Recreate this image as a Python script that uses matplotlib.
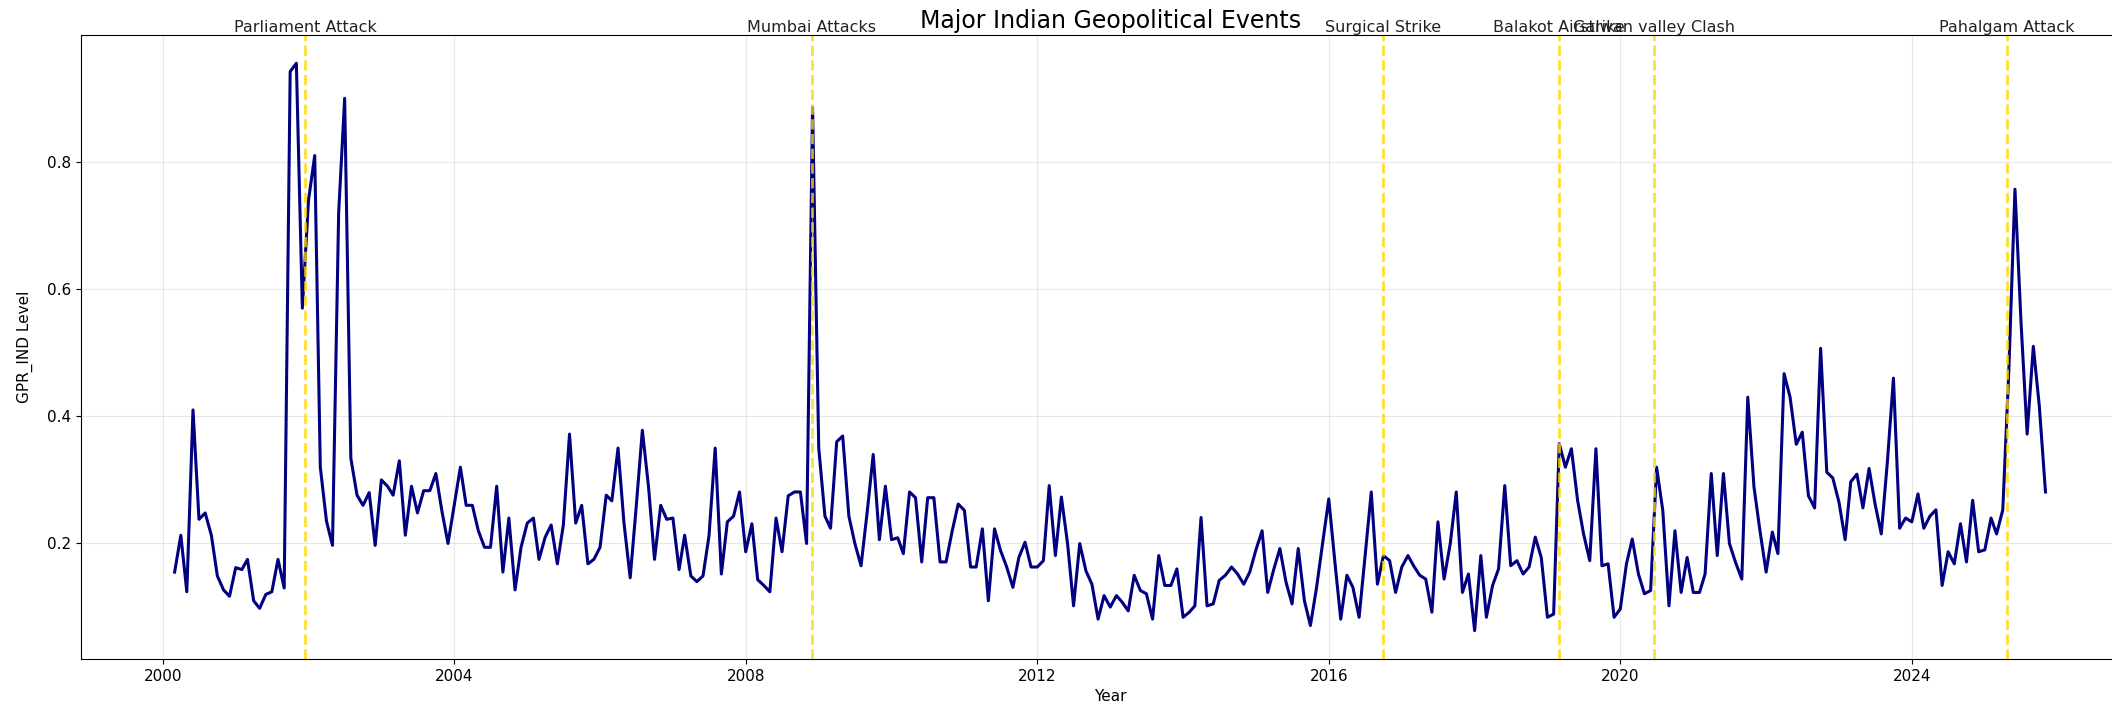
import pandas as pd
import matplotlib
matplotlib.use("Agg")
import matplotlib.pyplot as plt
import matplotlib.dates as mdates

# Monthly GPR_IND readings, month-end dated, Feb 2000 .. Oct 2025
gpr_2000 = [0.155, 0.213, 0.124, 0.41, 0.238, 0.248, 0.213, 0.149, 0.127, 0.117]
gpr_2001 = [0.162, 0.159, 0.175, 0.11, 0.098, 0.12, 0.124, 0.175, 0.13, 0.942, 0.955, 0.57]
gpr_2002 = [0.74, 0.81, 0.32, 0.235, 0.197, 0.72, 0.90, 0.334, 0.276, 0.26, 0.28, 0.197]
gpr_2003 = [0.30, 0.29, 0.276, 0.33, 0.213, 0.29, 0.248, 0.283, 0.283, 0.31, 0.25, 0.20]
gpr_2004 = [0.26, 0.32, 0.26, 0.26, 0.22, 0.194, 0.194, 0.29, 0.155, 0.24, 0.127, 0.194]
gpr_2005 = [0.232, 0.24, 0.175, 0.21, 0.229, 0.168, 0.229, 0.372, 0.232, 0.26, 0.168, 0.175]
gpr_2006 = [0.194, 0.276, 0.267, 0.35, 0.232, 0.146, 0.257, 0.378, 0.289, 0.175, 0.26, 0.238]
gpr_2007 = [0.24, 0.159, 0.213, 0.149, 0.14, 0.149, 0.212, 0.35, 0.152, 0.234, 0.243, 0.281]
gpr_2008 = [0.187, 0.231, 0.143, 0.134, 0.124, 0.24, 0.187, 0.275, 0.281, 0.281, 0.2, 0.886]
gpr_2009 = [0.35, 0.243, 0.224, 0.36, 0.369, 0.243, 0.2, 0.165, 0.25, 0.34, 0.206, 0.29]
gpr_2010 = [0.206, 0.209, 0.184, 0.281, 0.272, 0.171, 0.272, 0.272, 0.171, 0.171, 0.22, 0.262]
gpr_2011 = [0.252, 0.163, 0.163, 0.223, 0.11, 0.223, 0.189, 0.163, 0.131, 0.178, 0.202, 0.163]
gpr_2012 = [0.163, 0.173, 0.291, 0.181, 0.273, 0.2, 0.102, 0.2, 0.157, 0.136, 0.081, 0.118]
gpr_2013 = [0.1, 0.118, 0.108, 0.094, 0.15, 0.126, 0.121, 0.081, 0.181, 0.134, 0.134, 0.16]
gpr_2014 = [0.084, 0.092, 0.102, 0.241, 0.102, 0.105, 0.142, 0.15, 0.163, 0.152, 0.136, 0.155]
gpr_2015 = [0.19, 0.22, 0.123, 0.16, 0.192, 0.139, 0.105, 0.192, 0.11, 0.071, 0.131, 0.2]
gpr_2016 = [0.27, 0.17, 0.081, 0.15, 0.131, 0.084, 0.18, 0.281, 0.136, 0.181, 0.173, 0.123]
gpr_2017 = [0.163, 0.181, 0.165, 0.15, 0.144, 0.092, 0.234, 0.144, 0.2, 0.281, 0.123, 0.152]
gpr_2018 = [0.063, 0.181, 0.084, 0.134, 0.16, 0.291, 0.165, 0.173, 0.152, 0.163, 0.21, 0.178]
gpr_2019 = [0.084, 0.089, 0.357, 0.32, 0.349, 0.268, 0.215, 0.173, 0.349, 0.165, 0.168, 0.084]
gpr_2020 = [0.097, 0.168, 0.207, 0.152, 0.121, 0.126, 0.32, 0.252, 0.102, 0.22, 0.123, 0.178]
gpr_2021 = [0.123, 0.123, 0.152, 0.31, 0.181, 0.31, 0.2, 0.17, 0.144, 0.43, 0.289, 0.22]
gpr_2022 = [0.155, 0.218, 0.184, 0.467, 0.43, 0.356, 0.375, 0.275, 0.256, 0.507, 0.312, 0.303]
gpr_2023 = [0.265, 0.206, 0.297, 0.309, 0.256, 0.318, 0.262, 0.215, 0.33, 0.46, 0.224, 0.24]
gpr_2024 = [0.234, 0.278, 0.224, 0.243, 0.253, 0.134, 0.187, 0.168, 0.231, 0.171, 0.268, 0.187]
gpr_2025 = [0.19, 0.24, 0.215, 0.253, 0.47, 0.757, 0.55, 0.372, 0.51, 0.416, 0.281]

gpr_ind = (gpr_2000 + gpr_2001 + gpr_2002 + gpr_2003 + gpr_2004 + gpr_2005
           + gpr_2006 + gpr_2007 + gpr_2008 + gpr_2009 + gpr_2010 + gpr_2011
           + gpr_2012 + gpr_2013 + gpr_2014 + gpr_2015 + gpr_2016 + gpr_2017
           + gpr_2018 + gpr_2019 + gpr_2020 + gpr_2021 + gpr_2022 + gpr_2023
           + gpr_2024 + gpr_2025)
dates = pd.date_range("2000-01-31", periods=len(gpr_ind) + 1, freq="ME")[1:]

event_names = ["Parliament Attack", "Mumbai Attacks", "Surgical Strike",
               "Balakot Airstrike", "Galwan valley Clash", "Pahalgam Attack"]
event_dates = ["2001-12-13", "2008-11-26", "2016-09-29",
               "2019-02-26", "2020-06-15", "2025-04-22"]

fig = plt.figure(figsize=(21.12, 7.06), dpi=100)
ax = fig.add_axes([0.0384, 0.0666, 0.9744, 0.8839])

ax.plot(dates, gpr_ind, color="navy", linewidth=2.2)

for name, day in zip(event_names, event_dates):
    t = pd.Timestamp(day)
    ax.axvline(t, color="gold", linestyle="--", linewidth=2, alpha=0.8)
    ax.text(t, 1.0, name, transform=ax.get_xaxis_transform(),
            ha="center", va="bottom", fontsize=11.5, color="#222222")

ax.set_title("Major Indian Geopolitical Events", fontsize=17, pad=5)
ax.set_xlabel("Year", fontsize=11)
ax.set_ylabel("GPR_IND Level", fontsize=11, labelpad=10)
ax.xaxis.set_major_locator(mdates.YearLocator(4))
ax.xaxis.set_major_formatter(mdates.DateFormatter("%Y"))
ax.set_yticks([0.2, 0.4, 0.6, 0.8])
ax.tick_params(labelsize=11)
ax.grid(True, alpha=0.3)

fig.savefig("out.png", dpi=100)
